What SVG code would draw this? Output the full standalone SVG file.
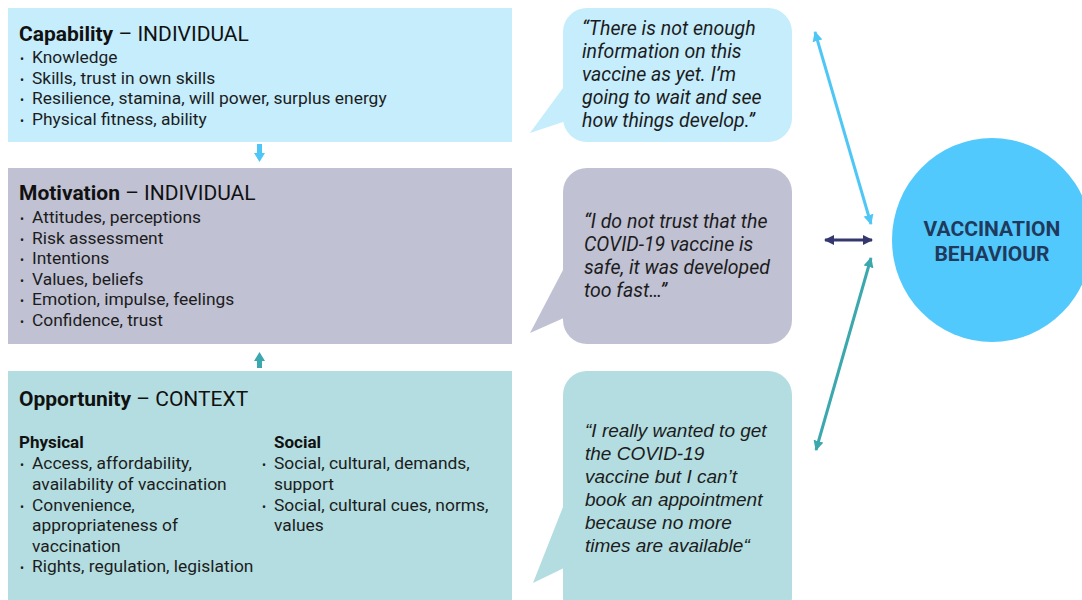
<svg xmlns="http://www.w3.org/2000/svg" width="1082" height="600" viewBox="0 0 1082 600">
  <defs>
    <style>
      .title { font-family: Roboto, "Open Sans", sans-serif; font-size: 21px; fill: #111; }
      .title .b { font-weight: 700; }
      .item { font-family: Roboto, "Open Sans", sans-serif; font-size: 17.4px; fill: #1c1c1c; }
      .sub { font-family: Roboto, "Open Sans", sans-serif; font-size: 17px; font-weight: 700; fill: #111; }
      .bul { font-family: Roboto, "Open Sans", sans-serif; font-size: 12px; fill: #1c1c1c; }
      .quote { font-family: Roboto, "Open Sans", sans-serif; font-size: 19.5px; font-style: italic; fill: #1c1c1c; }
      .quote2 { font-family: "Liberation Sans", Arial, sans-serif; font-size: 19px; font-style: italic; fill: #1c1c1c; }
      .centre { font-family: Roboto, "Open Sans", sans-serif; font-size: 21px; font-weight: 700; fill: #1f3a5c; text-anchor: middle; }
      .cap { fill: #c5edfc; }
      .mot { fill: #c0c1d3; }
      .opp { fill: #b3dde0; }
    </style>
    <marker id="headBlue" viewBox="0 0 10 10" refX="9" refY="5" markerWidth="3.4" markerHeight="3.4" orient="auto-start-reverse" markerUnits="strokeWidth">
      <path d="M0,0 L10,5 L0,10 Z" fill="#4fc7f6"/>
    </marker>
    <marker id="headNavy" viewBox="0 0 10 10" refX="9" refY="5" markerWidth="3.4" markerHeight="3.4" orient="auto-start-reverse" markerUnits="strokeWidth">
      <path d="M0,0 L10,5 L0,10 Z" fill="#35376f"/>
    </marker>
    <marker id="headTeal" viewBox="0 0 10 10" refX="9" refY="5" markerWidth="3.4" markerHeight="3.4" orient="auto-start-reverse" markerUnits="strokeWidth">
      <path d="M0,0 L10,5 L0,10 Z" fill="#3aa8ad"/>
    </marker>
  </defs>

  <rect width="1082" height="600" fill="#ffffff"/>

  <!-- Capability -->
  <g id="capability">
    <rect class="cap" x="8" y="8" width="504" height="134"/>
    <text class="title" x="19" y="41"><tspan class="b">Capability</tspan> – INDIVIDUAL</text>
    <text class="bul" x="20" y="63">•</text><text class="item" x="32" y="63">Knowledge</text>
    <text class="bul" x="20" y="83.5">•</text><text class="item" x="32" y="83.5">Skills, trust in own skills</text>
    <text class="bul" x="20" y="104">•</text><text class="item" x="32" y="104">Resilience, stamina, will power, surplus energy</text>
    <text class="bul" x="20" y="124.5">•</text><text class="item" x="32" y="124.5">Physical fitness, ability</text>
  </g>

  <!-- Motivation -->
  <g id="motivation">
    <rect class="mot" x="8" y="168" width="504" height="176"/>
    <text class="title" x="19" y="200"><tspan class="b">Motivation</tspan> – INDIVIDUAL</text>
    <text class="bul" x="20" y="223">•</text><text class="item" x="32" y="223">Attitudes, perceptions</text>
    <text class="bul" x="20" y="243.6">•</text><text class="item" x="32" y="243.6">Risk assessment</text>
    <text class="bul" x="20" y="264.2">•</text><text class="item" x="32" y="264.2">Intentions</text>
    <text class="bul" x="20" y="284.8">•</text><text class="item" x="32" y="284.8">Values, beliefs</text>
    <text class="bul" x="20" y="305.4">•</text><text class="item" x="32" y="305.4">Emotion, impulse, feelings</text>
    <text class="bul" x="20" y="326">•</text><text class="item" x="32" y="326">Confidence, trust</text>
  </g>

  <!-- Opportunity -->
  <g id="opportunity">
    <rect class="opp" x="8" y="371" width="504" height="240"/>
    <text class="title" x="19" y="406"><tspan class="b">Opportunity</tspan> – CONTEXT</text>
    <text class="sub" x="19" y="448">Physical</text>
    <text class="bul" x="20" y="469.4">•</text><text class="item" x="32" y="469.4">Access, affordability,</text>
    <text class="item" x="32" y="490">availability of vaccination</text>
    <text class="bul" x="20" y="510.6">•</text><text class="item" x="32" y="510.6">Convenience,</text>
    <text class="item" x="32" y="531.2">appropriateness of</text>
    <text class="item" x="32" y="551.8">vaccination</text>
    <text class="bul" x="20" y="572.4">•</text><text class="item" x="32" y="572.4">Rights, regulation, legislation</text>
    <text class="sub" x="274" y="448">Social</text>
    <text class="bul" x="262" y="469.4">•</text><text class="item" x="274" y="469.4">Social, cultural, demands,</text>
    <text class="item" x="274" y="490">support</text>
    <text class="bul" x="262" y="510.6">•</text><text class="item" x="274" y="510.6">Social, cultural cues, norms,</text>
    <text class="item" x="274" y="531.2">values</text>
  </g>

  <!-- Speech bubbles -->
  <g id="quote-capability">
    <rect class="cap" x="563" y="8" width="229" height="134" rx="24"/>
    <polygon class="cap" points="563,88 530,133 566,121 570,88"/>
    <text class="quote" x="582" y="35">“There is not enough</text>
    <text class="quote" x="582" y="58">information on this</text>
    <text class="quote" x="582" y="81">vaccine as yet. I’m</text>
    <text class="quote" x="582" y="104">going to wait and see</text>
    <text class="quote" x="582" y="127">how things develop.”</text>
  </g>

  <g id="quote-motivation">
    <rect class="mot" x="563" y="168" width="229" height="176" rx="24"/>
    <polygon class="mot" points="563,270 530,333 566,317 570,270"/>
    <text class="quote" x="584" y="228">“I do not trust that the</text>
    <text class="quote" x="584" y="251">COVID-19 vaccine is</text>
    <text class="quote" x="584" y="274">safe, it was developed</text>
    <text class="quote" x="584" y="297">too fast…”</text>
  </g>

  <g id="quote-opportunity">
    <rect class="opp" x="563" y="371" width="229" height="250" rx="24"/>
    <polygon class="opp" points="563,507 533,583 566,567 570,507"/>
    <text class="quote2" x="585" y="437">“I really wanted to get</text>
    <text class="quote2" x="585" y="460">the COVID-19</text>
    <text class="quote2" x="585" y="483">vaccine but I can’t</text>
    <text class="quote2" x="585" y="506">book an appointment</text>
    <text class="quote2" x="585" y="529">because no more</text>
    <text class="quote2" x="585" y="552">times are available“</text>
  </g>

  <!-- Central outcome -->
  <g id="behaviour">
    <ellipse cx="992" cy="240" rx="100" ry="102" fill="#52c9fc"/>
    <text class="centre" x="992" y="236">VACCINATION</text>
    <text class="centre" x="992" y="261">BEHAVIOUR</text>
  </g>

  <!-- Connectors -->
  <g id="connectors">
    <path d="M257,144 H262 V153 H265 L259.5,162 L254,153 H257 Z" fill="#4fc7f6"/>
    <path d="M257,368 H262 V361 H265 L259.5,352 L254,361 H257 Z" fill="#3aa8ad"/>
    <line x1="815" y1="32" x2="871" y2="224" stroke="#4fc7f6" stroke-width="3" marker-start="url(#headBlue)" marker-end="url(#headBlue)"/>
    <line x1="825" y1="240" x2="872" y2="240" stroke="#35376f" stroke-width="3" marker-start="url(#headNavy)" marker-end="url(#headNavy)"/>
    <line x1="871" y1="258" x2="816" y2="450" stroke="#3aa8ad" stroke-width="3" marker-start="url(#headTeal)" marker-end="url(#headTeal)"/>
  </g>
</svg>
